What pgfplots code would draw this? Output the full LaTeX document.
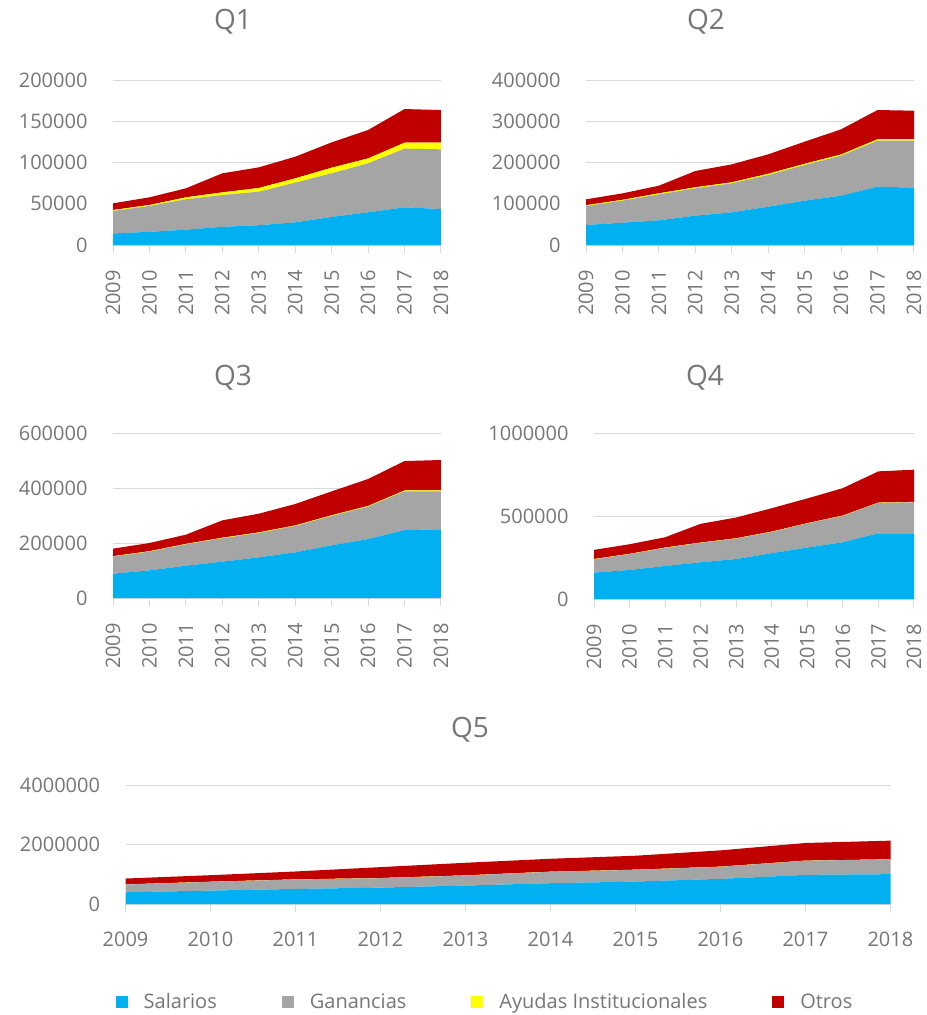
\documentclass[border=0pt]{standalone}
\usepackage{fontspec}
\setmainfont{Open Sans}
\usepackage{pgfplots}
\pgfplotsset{compat=1.18}

\definecolor{sal}{HTML}{00B0F0}
\definecolor{gan}{HTML}{A5A5A5}
\definecolor{ayu}{HTML}{FFFF00}
\definecolor{otr}{HTML}{C00000}
\definecolor{txt}{HTML}{767676}
\definecolor{gridc}{HTML}{D9D9D9}

\newcommand\lbl{\fontsize{20bp}{24bp}\selectfont}
\newcommand\ttl{\fontsize{28bp}{32bp}\selectfont}

\pgfplotsset{
  quint/.style={
    scale only axis,
    anchor=south west,
    xmin=2009, xmax=2018,
    ymin=0,
    stack plots=y,
    axis x line*=bottom,
    axis y line*=left,
    y axis line style={draw=none},
    x axis line style={gridc, line width=1bp},
    ymajorgrids,
    grid style={gridc, line width=1bp},
    xtick={2009,...,2018},
    xticklabels={2009,2010,2011,2012,2013,2014,2015,2016,2017,2018},
    xtick style={gridc, line width=1bp},
    xtick align=outside,
    major tick length=8bp,
    ytick style={draw=none},
    tick label style={font=\lbl, text=txt},
    yticklabel style={xshift=-22bp,
      /pgf/number format/.cd, fixed, 1000 sep={}, assume math mode=true},
    scaled y ticks=false,
  },
  rot/.style={xticklabel style={rotate=90, anchor=east, inner xsep=17bp}},
  sal/.style={fill=sal, draw=none},
  gan/.style={fill=gan, draw=none},
  ayu/.style={fill=ayu, draw=none},
  otr/.style={fill=otr, draw=none},
}

\begin{document}
\begin{tikzpicture}
\useasboundingbox (0,0) rectangle (927bp,-1015bp);

% ---------- Q1 ----------
\begin{axis}[quint, rot, at={(113bp,-245bp)}, width=328bp, height=165bp,
  ymax=200000, ytick={0,50000,100000,150000,200000}]
\addplot[sal] coordinates {(2009,14000) (2010,16000) (2011,18600) (2012,22000) (2013,24000) (2014,27500) (2015,34000) (2016,39600) (2017,45700) (2018,43600)} \closedcycle;
\addplot[gan] coordinates {(2009,27200) (2010,31300) (2011,36800) (2012,38600) (2013,40600) (2014,48100) (2015,52900) (2016,59400) (2017,71100) (2018,72400)} \closedcycle;
\addplot[ayu] coordinates {(2009,1200) (2010,1200) (2011,2400) (2012,3200) (2013,4500) (2014,5200) (2015,6800) (2016,6000) (2017,7200) (2018,8000)} \closedcycle;
\addplot[otr] coordinates {(2009,8100) (2010,9300) (2011,10900) (2012,23100) (2013,25000) (2014,26200) (2015,30700) (2016,34400) (2017,40800) (2018,39600)} \closedcycle;
\end{axis}

% ---------- Q2 ----------
\begin{axis}[quint, rot, at={(586bp,-245bp)}, width=328bp, height=165bp,
  ymax=400000, ytick={0,100000,200000,300000,400000}]
\addplot[sal] coordinates {(2009,48500) (2010,54100) (2011,59800) (2012,71100) (2013,79200) (2014,92900) (2015,107500) (2016,119600) (2017,141400) (2018,139000)} \closedcycle;
\addplot[gan] coordinates {(2009,46000) (2010,53400) (2011,63000) (2012,66300) (2013,70300) (2014,76800) (2015,86400) (2016,96900) (2017,111500) (2018,113900)} \closedcycle;
\addplot[ayu] coordinates {(2009,2000) (2010,2000) (2011,2500) (2012,2500) (2013,2500) (2014,3000) (2015,3000) (2016,3000) (2017,3500) (2018,3500)} \closedcycle;
\addplot[otr] coordinates {(2009,14200) (2010,15700) (2011,18500) (2012,39500) (2013,43500) (2014,47100) (2015,53600) (2016,60900) (2017,70800) (2018,69200)} \closedcycle;
\end{axis}

% ---------- Q3 ----------
\begin{axis}[quint, rot, at={(113bp,-598bp)}, width=328bp, height=165bp,
  ymax=600000, ytick={0,200000,400000,600000}]
\addplot[sal] coordinates {(2009,88500) (2010,100600) (2011,117600) (2012,132100) (2013,147900) (2014,166000) (2015,191500) (2016,214500) (2017,247200) (2018,249700)} \closedcycle;
\addplot[gan] coordinates {(2009,62000) (2010,68100) (2011,77700) (2012,85100) (2013,88700) (2014,96000) (2015,106900) (2016,117800) (2017,140900) (2018,138400)} \closedcycle;
\addplot[ayu] coordinates {(2009,1500) (2010,1500) (2011,1500) (2012,2000) (2013,2000) (2014,2000) (2015,2500) (2016,2500) (2017,3000) (2018,3000)} \closedcycle;
\addplot[otr] coordinates {(2009,27400) (2010,29800) (2011,33500) (2012,63200) (2013,68000) (2014,77800) (2015,86900) (2016,97900) (2017,107000) (2018,110700)} \closedcycle;
\end{axis}

% ---------- Q4 ----------
\begin{axis}[quint, rot, at={(594bp,-599bp)}, width=320bp, height=166bp,
  ymax=1000000, ytick={0,500000,1000000}]
\addplot[sal] coordinates {(2009,159000) (2010,175000) (2011,199000) (2012,221000) (2013,241000) (2014,276000) (2015,310000) (2016,342000) (2017,396000) (2018,396000)} \closedcycle;
\addplot[gan] coordinates {(2009,80000) (2010,95000) (2011,109000) (2012,117000) (2013,123000) (2014,128000) (2015,145000) (2016,159000) (2017,183000) (2018,187000)} \closedcycle;
\addplot[ayu] coordinates {(2009,2000) (2010,2000) (2011,2000) (2012,2000) (2013,2000) (2014,2000) (2015,2000) (2016,2000) (2017,2000) (2018,2000)} \closedcycle;
\addplot[otr] coordinates {(2009,55000) (2010,58000) (2011,62000) (2012,113000) (2013,125000) (2014,141000) (2015,149000) (2016,165000) (2017,188000) (2018,194000)} \closedcycle;
\end{axis}

% ---------- Q5 ----------
\begin{axis}[quint, at={(125.5bp,-904bp)}, width=765bp, height=119bp,
  ymax=4000000, ytick={0,2000000,4000000},
  xticklabel style={yshift=-16bp},
  legend columns=4,
  legend style={at={(-0.013,-0.82)}, anchor=west, draw=none, fill=none,
    font=\lbl, text=txt, inner sep=0pt,
    /tikz/every odd column/.append style={column sep=14bp},
    /tikz/every even column/.append style={column sep=63bp}},
  legend cell align=left,
  legend image code/.code={\fill[#1] (0bp,-6bp) rectangle (12bp,6bp);},
  ]
\addplot[sal] coordinates {(2009,394000) (2010,451000) (2011,507000) (2012,552000) (2013,620000) (2014,699000) (2015,755000) (2016,845000) (2017,980000) (2018,1003000)} \closedcycle;
\addplot[gan] coordinates {(2009,260000) (2010,293000) (2011,316000) (2012,316000) (2013,338000) (2014,383000) (2015,394000) (2016,406000) (2017,474000) (2018,496000)} \closedcycle;
\addplot[ayu] coordinates {(2009,5000) (2010,5000) (2011,5000) (2012,5000) (2013,5000) (2014,5000) (2015,5000) (2016,5000) (2017,5000) (2018,5000)} \closedcycle;
\addplot[otr] coordinates {(2009,197000) (2010,220000) (2011,265000) (2012,367000) (2013,423000) (2014,434000) (2015,469000) (2016,547000) (2017,592000) (2018,626000)} \closedcycle;
\legend{Salarios, Ganancias, Ayudas Institucionales, Otros}
\end{axis}

% ---------- titles ----------
\node[font=\ttl, text=txt] at (233bp,-22bp) {Q1};
\node[font=\ttl, text=txt] at (706bp,-22bp) {Q2};
\node[font=\ttl, text=txt] at (233bp,-378bp) {Q3};
\node[font=\ttl, text=txt] at (705bp,-378bp) {Q4};
\node[font=\ttl, text=txt] at (470bp,-730bp) {Q5};
\end{tikzpicture}
\end{document}
